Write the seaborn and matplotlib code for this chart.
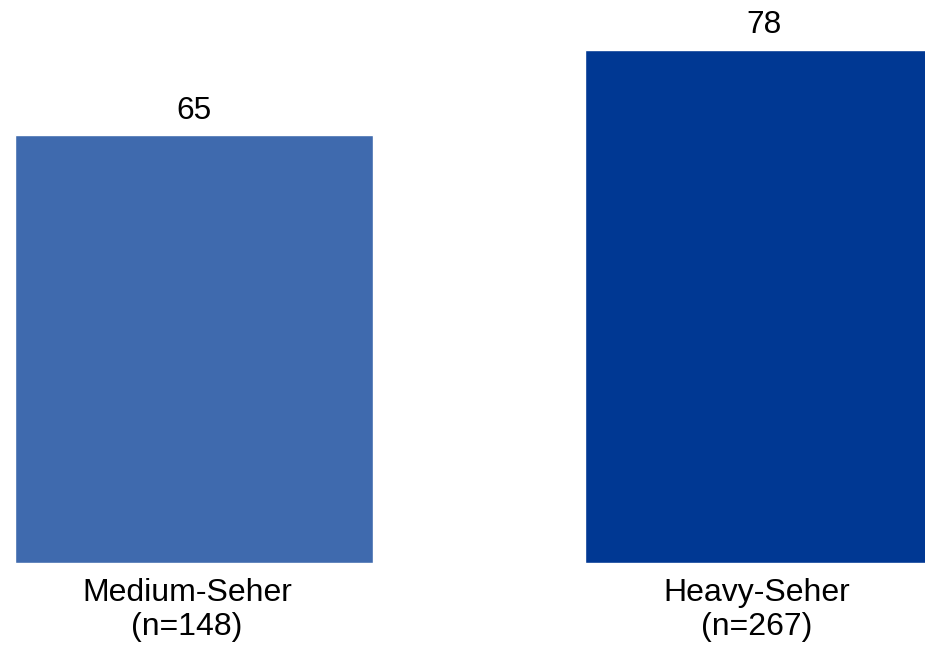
import matplotlib
matplotlib.use("Agg")
import matplotlib.pyplot as plt
import matplotlib.transforms as mtransforms
import seaborn as sns
import pandas as pd

categories = ["Medium-Seher\n(n=148)", "Heavy-Seher\n(n=267)"]
values = [65, 78]
colors = ["#3F6AAE", "#003893"]

sns.set_theme(style="white")
plt.rcParams["font.family"] = ["Liberation Sans", "DejaVu Sans"]

df = pd.DataFrame({"cat": categories, "val": values})

fig = plt.figure(figsize=(9.25, 6.46), dpi=100)
ax = fig.add_axes([0, 83 / 646, 1, 563 / 646])
sns.barplot(data=df, x="cat", y="val", hue="cat", palette=colors,
            width=0.628, saturation=1, legend=False, ax=ax)

ax.set_xlim(-194 / 570, (925 - 194) / 570)
ax.set_ylim(0, 563 / 6.58)
for c in ax.containers:
    ax.bar_label(c, fmt="%d", padding=7, fontsize=22.8, color="black")

ax.set_xlabel("")
ax.set_ylabel("")
ax.set_yticks([])
ax.tick_params(axis="x", length=0, pad=11, labelsize=23, colors="black")
shift = mtransforms.ScaledTranslation(-7 / 100, 0, fig.dpi_scale_trans)
for lbl in ax.get_xticklabels():
    lbl.set_linespacing(1.15)
    lbl.set_transform(lbl.get_transform() + shift)
for s in ax.spines.values():
    s.set_visible(False)

fig.savefig("out.png", dpi=100)
